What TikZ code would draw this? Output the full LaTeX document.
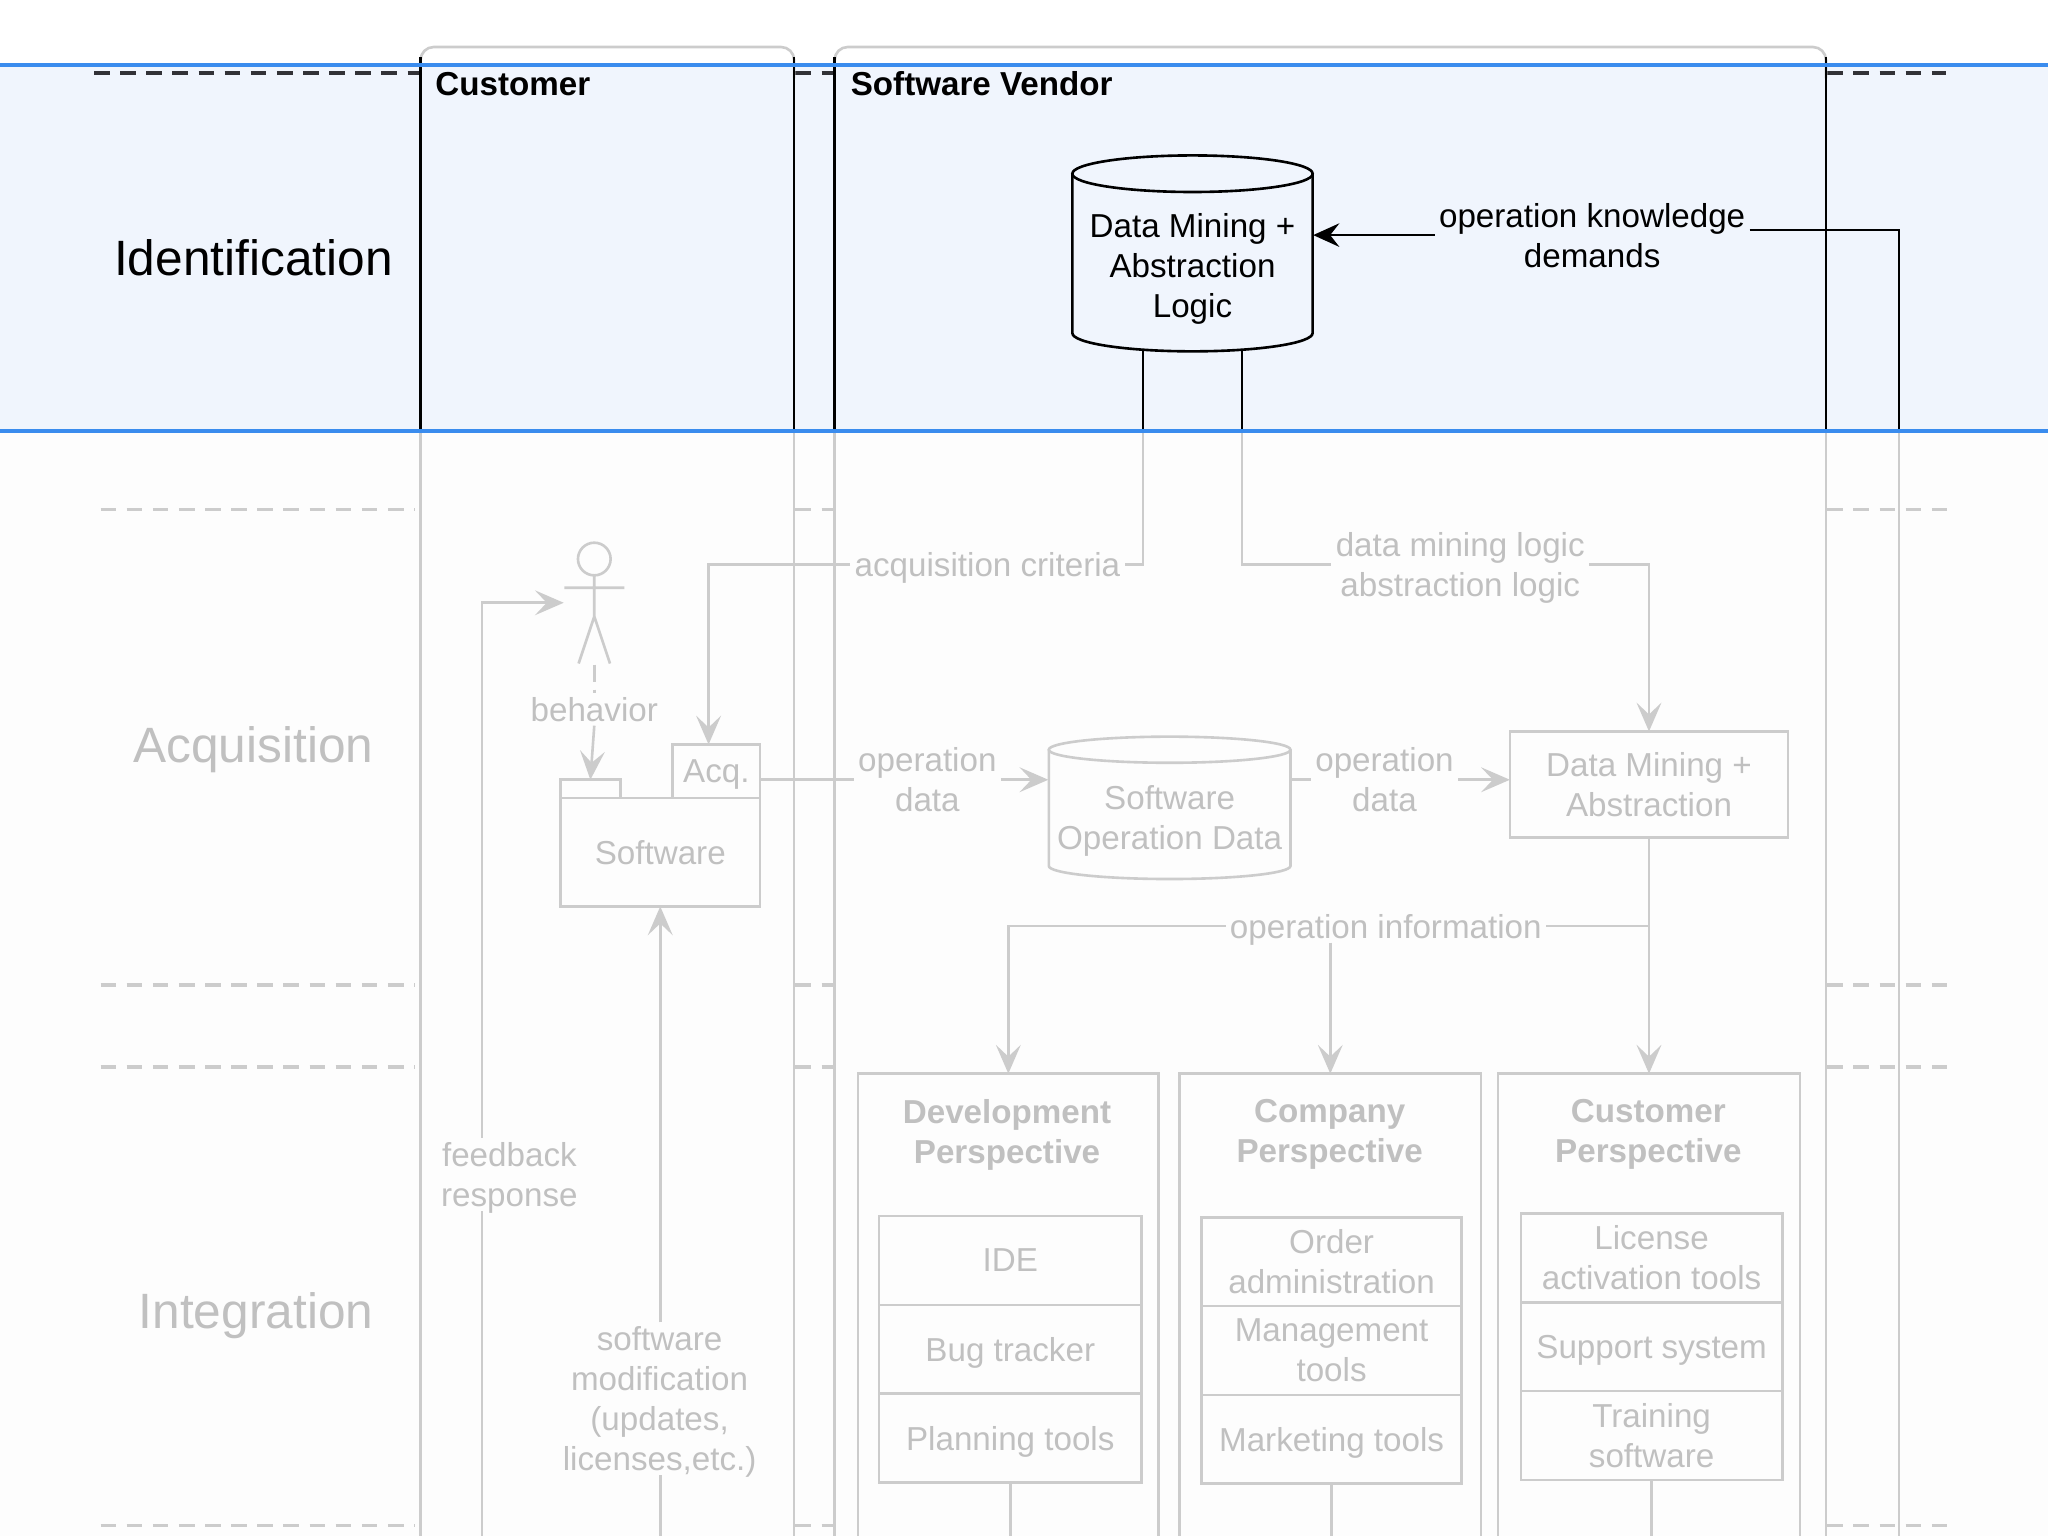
\documentclass[tikz,border=0pt]{standalone}
\usepackage{fontspec}
\setmainfont{Liberation Sans}
\usetikzlibrary{arrows.meta}
\definecolor{bandfill}{RGB}{240,245,253}
\definecolor{blueline}{RGB}{58,140,238}
\definecolor{fadeline}{RGB}{204,204,204}
\definecolor{fadetext}{RGB}{192,192,192}
\definecolor{lowbg}{RGB}{253,253,253}
\definecolor{darkdash}{RGB}{50,50,55}
\newcommand\fsz{\fontsize{12.7}{15.3}\selectfont}
\newcommand\fbig{\fontsize{19}{23}\selectfont}
\begin{document}
\begin{tikzpicture}[x=0.5pt,y=-0.5pt,
  every node/.style={font=\fsz, inner sep=1.5pt, text depth=0pt},
  bline/.style={draw=black, line width=1pt},
  gline/.style={draw=fadeline, line width=1pt},
  barrow/.style={bline, -{Stealth[length=10pt,width=9pt,inset=3.5pt]}},
  garrow/.style={gline, -{Stealth[length=11pt,width=9.5pt,inset=4.5pt]}},
  btxt/.style={text=black, align=center},
  gtxt/.style={text=fadetext, align=center},
  lanelbl/.style={font=\fbig},
  ddash/.style={draw=darkdash, line width=1.3pt, dash pattern=on 6pt off 4pt},
  gdash/.style={draw=fadeline, line width=1.3pt, dash pattern=on 6pt off 4pt},
  gbox/.style={draw=fadeline, line width=1pt, rectangle, inner sep=0pt, outer sep=0pt},
  rowbox/.style={gbox, gtxt, anchor=north, minimum height=34pt},
  ptitle/.style={gtxt, font=\fsz\bfseries},
]
\useasboundingbox (0,0) rectangle (1568,1176);
\clip (0,0) rectangle (1568,1176);
% backgrounds
\fill[white] (0,0) rectangle (1568,50);
\fill[lowbg] (0,330) rectangle (1568,1176);
\fill[bandfill] (0,50) rectangle (1568,330);
% lane separators
\draw[ddash] (72,56) -- (321,56);
\draw[ddash] (609,56) -- (638,56);
\draw[ddash] (1399,56) -- (1490,56);
\foreach \yy in {390,754,817,1168}{
  \draw[gdash] (77,\yy) -- (318,\yy);
  \draw[gdash] (609,\yy) -- (638,\yy);
  \draw[gdash] (1399,\yy) -- (1495,\yy);
}
% pools
\draw[gline, rounded corners=5pt] (322,60) -- (322,36) -- (608,36) -- (608,60);
\draw[gline, rounded corners=5pt] (639,60) -- (639,36) -- (1398,36) -- (1398,60);
\foreach \xx in {322,608,639,1398}{
  \draw[bline] (\xx,44) -- (\xx,330);
  \draw[gline] (\xx,330) -- (\xx,1176);
}
\node[anchor=west, font=\fsz\bfseries, text=black] (tcust) at (330,64) {Customer};
\node[anchor=west, font=\fsz\bfseries, text=black] (tvend) at (648,64) {Software Vendor};
% lane labels
\node[lanelbl, text=black] (lid) at (194,197) {Identification};
\node[lanelbl, text=fadetext] (lacq) at (194,570) {Acquisition};
\node[lanelbl, text=fadetext] (lint) at (196,1003) {Integration};
% cylinder: data mining + abstraction logic
\draw[bline, fill=bandfill] (821,133) -- (821,255) arc[start angle=180, end angle=360, x radius=46pt, y radius=7pt] -- (1005,133);
\draw[bline] (913,133) ellipse [x radius=46pt, y radius=7pt];
\node[inner sep=0pt, minimum width=92pt, minimum height=75pt] (dml) at (913,194) {};
\node[btxt] (dmltxt) at (913,203) {Data Mining +\\Abstraction\\Logic};
\node[btxt] (okd) at (1219,180) {operation knowledge\\demands};
\draw[barrow] (okd.west) -- (okd.west -| dml.east);
\coordinate (rtB) at (1454,330);
\coordinate (rtE) at (1454,1176);
\draw[bline] ([yshift=2pt]okd.east) -| (rtB);
\draw[gline] (rtB) -- (rtE);
\coordinate (c1) at (875,268);
\coordinate (c2) at (951,268);
\coordinate (c1b) at (875,330);
\coordinate (c2b) at (951,330);
\draw[bline] (c1) -- (c1b);
\draw[bline] (c2) -- (c2b);
% actor
\draw[gline] (455,428) circle[radius=6.25pt];
\draw[gline] (455,440.5) -- (455,472) (432,450) -- (478,450) (443,508) -- (455,472) -- (467,508);
\node[inner sep=0pt, minimum width=23pt, minimum height=47pt] (actor) at (455,461.5) {};
% software package
\node[gbox, gtxt, minimum width=76.5pt, minimum height=41.5pt] (sw) at (505.5,652.5) {Software};
\node[gbox, minimum width=23pt, minimum height=7pt] (stab) at (452,604) {};
\node[gbox, gtxt, minimum width=33.5pt, minimum height=20.5pt] (acq) at (548.5,590.5) {Acq.};
% behavior
\node[gtxt] (beh) at (455,543) {behavior};
\draw[gline, dash pattern=on 6.5pt off 3pt] (actor.south) -- (beh.north);
\draw[garrow] (beh.south) -- (stab.north);
% software operation data cylinder
\draw[gline, fill=lowbg] (803,574) -- (803,663) arc[start angle=180, end angle=360, x radius=46.25pt, y radius=5pt] -- (988,574);
\draw[gline] (895.5,574) ellipse [x radius=46.25pt, y radius=5pt];
\node[inner sep=0pt, minimum width=92.5pt, minimum height=55pt] (sod) at (895.5,618.5) {};
\node[gtxt] (sodtxt) at (895.5,626) {Software\\Operation Data};
% data mining + abstraction box
\node[gbox, gtxt, minimum width=106.5pt, minimum height=40.5pt] (dma) at (1262.5,600.5) {Data Mining +\\Abstraction};
% acquisition criteria
\node[gtxt] (acc) at (756,432) {acquisition criteria};
\draw[gline] (c1b) |- (acc.east);
\draw[garrow] (acc.west) -| ([xshift=-3pt]acq.north);
% data mining logic
\node[gtxt] (dmlog) at (1118,432) {data mining logic\\abstraction logic};
\draw[gline] (c2b) |- (dmlog.west);
\draw[garrow] (dmlog.east) -| (dma.north);
% operation data
\node[gtxt] (od1) at (710,597) {operation\\data};
\draw[gline] (od1.west -| acq.east) -- (od1.west);
\draw[garrow] (od1.east) -- (od1.east -| sod.west);
\node[gtxt] (od2) at (1060,597) {operation\\data};
\draw[gline] (od2.west -| sod.east) -- (od2.west);
\draw[garrow] (od2.east) -- (od2.east -| dma.west);
% perspectives
\node[gbox, minimum width=115pt, minimum height=185pt, anchor=north] (dp) at (772,822) {};
\node[gbox, minimum width=115.5pt, minimum height=185pt, anchor=north] (cop) at (1018.5,822) {};
\node[gbox, minimum width=115.5pt, minimum height=185pt, anchor=north] (cup) at (1262.5,822) {};
\node[ptitle] (dpt) at (771,866) {Development\\Perspective};
\node[ptitle] (copt) at (1018,866) {Company\\Perspective};
\node[ptitle] (cupt) at (1262,866) {Customer\\Perspective};
\node[rowbox, minimum width=100.5pt] (ide) at (773.5,931) {IDE};
\node[rowbox, minimum width=100.5pt] (bug) at (ide.south) {Bug tracker};
\node[rowbox, minimum width=100.5pt] (plan) at (bug.south) {Planning tools};
\node[rowbox, minimum width=99.5pt] (order) at (1019.5,932) {Order\\administration};
\node[rowbox, minimum width=99.5pt] (mgmt) at (order.south) {Management\\tools};
\node[rowbox, minimum width=99.5pt] (mkt) at (mgmt.south) {Marketing tools};
\node[rowbox, minimum width=100pt] (lic) at (1264.5,929) {License\\activation tools};
\node[rowbox, minimum width=100pt] (sup) at (lic.south) {Support system};
\node[rowbox, minimum width=100pt] (train) at (sup.south) {Training\\software};
\draw[gline] (plan.south) -- ++(0,60);
\draw[gline] (mkt.south) -- ++(0,60);
\draw[gline] (train.south) -- ++(0,60);
% operation information
\node[gtxt] (oi) at (1061,709) {operation information};
\draw[garrow] (dma.south) -- (cup.north);
\draw[gline] (oi.east) -- (oi.east -| dma.south);
\draw[garrow] (oi.west) -| (dp.north);
\draw[garrow] (oi.south -| cop.north) -- (cop.north);
% feedback response
\node[gtxt] (fb) at (390,899) {feedback\\response};
\coordinate (fbs) at (369,1180);
\draw[gline] (fbs) -- (fbs |- fb.south);
\draw[garrow] (fbs |- fb.north) |- (actor.west);
% software modification
\node[gtxt] (sm) at (505,1071) {software\\modification\\(updates,\\licenses,etc.)};
\coordinate (sms) at (505.5,1180);
\draw[gline] (sms) -- (sms |- sm.south);
\draw[garrow] (sms |- sm.north) -- (sw.south);
% blue band borders
\draw[blueline, line width=1.6pt] (0,50) -- (1568,50);
\draw[blueline, line width=1.6pt] (0,330) -- (1568,330);
\end{tikzpicture}
\end{document}
